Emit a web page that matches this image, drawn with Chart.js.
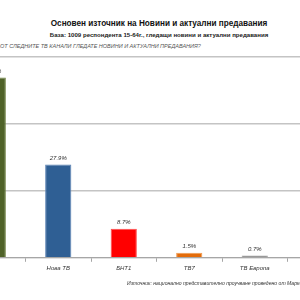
<!DOCTYPE html>
<html lang="bg">

<head>
  <meta charset="UTF-8">
  <title>Основен източник на Новини</title>
  <script src="https://cdn.jsdelivr.net/npm/chart.js"></script>
  <style>
    html, body { margin: 0; padding: 0; background: #fff; }
    body { width: 300px; height: 300px; overflow: hidden; position: relative; font-family: "Liberation Sans", Arial, sans-serif; }
    .titulo { position: absolute; top: 19px; left: 0; width: 318px; text-align: center; font-weight: bold; font-size: 8.2px; color: #111; }
    .subtitulo { position: absolute; top: 31px; left: 0; width: 318px; text-align: center; font-weight: bold; font-size: 6.1px; color: #222; }
    .pergunta { position: absolute; top: 43px; left: 0; font-style: italic; font-size: 5.5px; color: #555; white-space: nowrap; }
    .fonte { position: absolute; top: 280px; left: 127px; font-style: italic; font-size: 5.1px; color: #333; white-space: nowrap; }
    .grafico { position: absolute; left: -40px; top: 0; width: 400px; height: 300px; }
  </style>
</head>

<body>
  <div class="titulo">Основен източник на Новини и актуални предавания</div>
  <div class="subtitulo">База: 1009 респондента 15-64г., гледащи новини и актуални предавания</div>
  <div class="pergunta">ОТ СЛЕДНИТЕ ТВ КАНАЛИ ГЛЕДАТЕ НОВИНИ И АКТУАЛНИ ПРЕДАВАНИЯ?</div>

  <div class="grafico">
    <canvas id="graficoCanais"></canvas>
  </div>

  <div class="fonte">Източник: национално представително проучване проведено от Маркет Линкс</div>

  <script>
    // canais (o primeiro e o ultimo ficam cortados na imagem)
    const canais = ['bTV', 'Нова ТВ', 'БНТ1', 'ТВ7', 'ТВ Европа', ''];
    const percentuais = [53.9, 27.9, 8.7, 1.5, 0.7, null];
    const rotulos = ['53.9%', '27.9%', '8.7%', '1.5%', '0.7%', ''];
    const cores = ['#4f6228', '#2f5f94', '#ff0000', '#e46c0a', '#7f7f7f', '#7f7f7f'];
    const bordas = ['#6f8240', '#5a82b4', '#ff4a4a', '#f09a50', '#a0a0a0', '#a0a0a0'];
    const ticksY = [0, 20, 40, 60];

    // escreve o valor em cima de cada barra
    const rotuloBarras = {
      id: 'rotuloBarras',
      afterDatasetsDraw(chart) {
        const ctx = chart.ctx;
        const meta = chart.getDatasetMeta(0);
        ctx.save();
        ctx.font = 'italic 6px "Liberation Sans", Arial, sans-serif';
        ctx.fillStyle = '#333';
        ctx.textAlign = 'center';
        ctx.textBaseline = 'bottom';
        meta.data.forEach((bar, i) => {
          if (percentuais[i] == null) return;
          ctx.fillText(rotulos[i], bar.x, bar.y - 3);
        });
        ctx.restore();
      }
    };

    const ctx = document.getElementById('graficoCanais');
    new Chart(ctx, {
      type: 'bar',
      data: {
        labels: canais,
        datasets: [{
          data: percentuais,
          backgroundColor: cores,
          borderColor: bordas,
          borderWidth: 1,
          barPercentage: 0.8,
          categoryPercentage: 0.5
        }]
      },
      options: {
        responsive: true,
        maintainAspectRatio: false,
        animation: false,
        layout: {
          padding: { left: 0, right: 7, top: 57, bottom: 25 }
        },
        plugins: {
          legend: { display: false },
          tooltip: { enabled: false }
        },
        scales: {
          x: {
            grid: {
              display: true,
              drawOnChartArea: false,
              drawTicks: true,
              tickLength: 4,
              color: '#a6a6a6'
            },
            border: { color: '#a6a6a6', width: 1 },
            ticks: {
              color: '#333',
              font: { size: 6, style: 'italic', family: '"Liberation Sans", Arial, sans-serif' },
              padding: 3,
              maxRotation: 0,
              autoSkip: false
            }
          },
          y: {
            min: 0,
            max: 60,
            afterBuildTicks(axis) {
              axis.ticks = ticksY.map(v => ({ value: v }));
            },
            grid: {
              color: '#c4c4c4',
              lineWidth: 1.5,
              drawTicks: false
            },
            border: { display: false },
            ticks: { display: false }
          }
        }
      },
      plugins: [rotuloBarras]
    });
  </script>

</body>

</html>
